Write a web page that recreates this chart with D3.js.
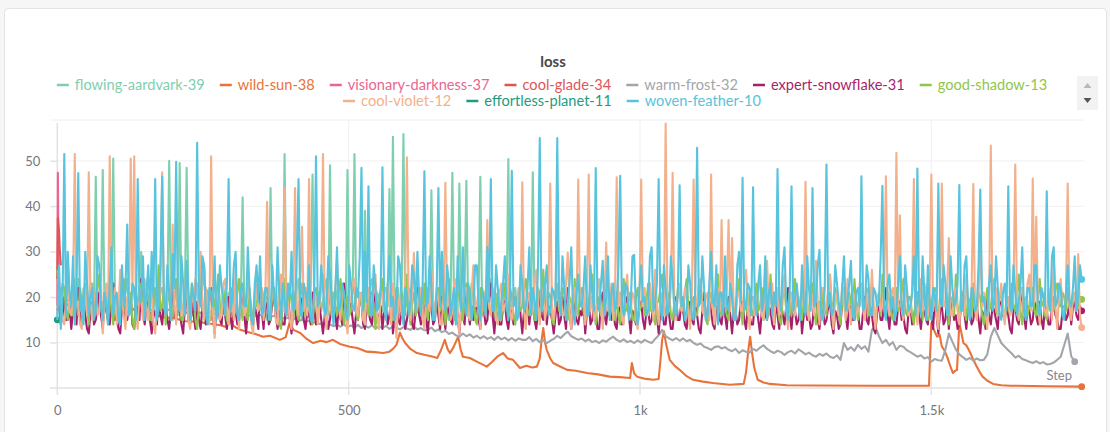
<!DOCTYPE html>
<html>
<head>
<meta charset="utf-8">
<script src="https://cdn.jsdelivr.net/npm/d3@7"></script>
<style>
  body { margin: 0; background: #f6f6f6; overflow: hidden; }
  svg { display: block; font-family: Lato, "Noto Sans", sans-serif; }
</style>
</head>
<body>
<script>
// run names + colours (legend order = draw order)
const runNames = ["flowing-aardvark-39", "wild-sun-38", "visionary-darkness-37", "cool-glade-34", "warm-frost-32",
  "expert-snowflake-31", "good-shadow-13", "cool-violet-12", "effortless-planet-11", "woven-feather-10"];
const runColors = ["#7fcfae", "#e8733a", "#ea6590", "#e05656", "#a2a6aa",
  "#a61f6b", "#8fc64c", "#f2b18c", "#1f9b80", "#57c3dc"];

// x ticks / y ticks
const xTicks = [0, 500, 1000, 1500];
const yTicks = [10, 20, 30, 40, 50];

// logging grids: most runs every 3 steps, warm-frost every 6 steps
const fineSteps = d3.range(0, 1759, 3);
const coarseSteps = d3.range(0, 1759, 6);

// flowing-aardvark-39 (stops at step 840)
const flowingAardvark = [
  16,20,22,17,18,23,27,19,15,21,20,16,24,18,17,22,21,16,19,23,
  23,18,46.5,17,17,21,48,18,20,16,15,22,50.5,19,19,15,22,18,16,21,
  24,17,18,22,21,16,15,20,30,17,19,23,17,21,23,16,20,18,16,22,
  22,17,18,21,50,19,15,20,21,16,49.5,18,17,22,48.5,19,20,16,16,21,
  23,17,19,22,27,18,15,20,22,16,18,21,24,17,16,22,20,18,21,16,
  17,21,23,16,15,20,42,18,19,23,22,16,16,21,25,18,18,22,20,16,
  15,20,44,18,21,16,17,22,23,18,51.5,19,16,21,20,17,19,22,24,17,
  15,21,22,17,18,23,47,18,16,21,21,17,19,22,24,16,49,18,17,22,
  20,16,15,21,23,17,48,19,18,22,51.5,17,16,20,21,18,39,17,19,23,
  24,18,15,21,20,17,17,22,22,18,43.8,19,55.3,18,19,22,16,21,55.9,18,
  18,22,21,16,15,20,23,17,19,22,17,16,22,18,43.5,19,16,21,20,17,
  24,18,18,21,15,20,47.4,18,21,17,45,19,17,22,45.6,18,19,23,22,17,
  16,20,46.5,18,20,16,18,22,24,17,15,20,21,16,17,22,19,18,50.4,19,
  16,21,22,17,18,23,24,17,15,20,20,16,47.5,18,17,22,21,16,19,22,18
];

// wild-sun-38 (logged steps + values)
const wildSunSteps = [0, 20, 40, 60, 80, 100, 120, 142, 160, 180, 199, 220, 245, 255, 267, 280, 291, 296, 303, 314,
  325, 340, 353, 365, 382, 392, 399, 405, 417, 428, 439, 452, 462, 473, 485, 502, 515, 531, 545, 559,
  570, 576, 582, 588, 592, 597, 606, 617, 630, 645, 652, 658, 665, 670, 674, 680, 688, 692, 696, 708,
  720, 737, 745, 755, 765, 773, 782, 794, 805, 815, 823, 828, 831, 834, 837, 840, 846, 851, 862, 875,
  890, 909, 928, 948, 965, 983, 986, 990, 995, 1010, 1023, 1032, 1035, 1038, 1041, 1045, 1051, 1060, 1068, 1080,
  1091, 1108, 1125, 1154, 1178, 1182, 1186, 1189, 1192, 1196, 1202, 1212, 1223, 1252, 1300, 1400, 1496, 1498, 1500, 1505,
  1510, 1514, 1518, 1522, 1527, 1532, 1537, 1541, 1544, 1546, 1548, 1551, 1555, 1560, 1567, 1572, 1578, 1583, 1588, 1596,
  1606, 1620, 1635, 1700, 1758];
const wildSunValues = [20, 19.2, 19.6, 18.8, 18.9, 18.1, 17.8, 17, 16.5, 15.6, 15.4, 14.7, 14.6, 14.2, 14.1, 13.8, 13.4, 15, 13.6, 12.8,
  12.4, 11.9, 11.3, 11.5, 10.6, 11.2, 14.6, 12.8, 12.1, 10.8, 9.9, 10.4, 10.1, 10.6, 9.7, 9.1, 8.8, 8, 7.9, 7.7,
  8, 8.6, 9.5, 12.2, 11, 9.9, 8.6, 7.7, 7.3, 6.9, 6.6, 8.2, 10.6, 8.5, 7.7, 9, 11.3, 8.6, 6.9, 6.6,
  5.8, 4.7, 5.6, 6.9, 7.7, 6.5, 6.2, 4.4, 4.9, 4.5, 4.7, 6.5, 10.4, 13.2, 10, 8.4, 6.5, 5.5, 4.8, 4,
  3.8, 3.3, 3, 2.5, 2.4, 2.2, 5.5, 3.2, 2.5, 2, 1.8, 2, 6, 10.6, 12.5, 9.5, 6.2, 4.8, 4, 2.6,
  1.8, 1.4, 1.1, 0.7, 0.9, 3.5, 8.5, 11.3, 8, 4.5, 1.8, 1.2, 0.9, 0.6, 0.55, 0.5, 0.5, 8, 14.3, 12.6,
  11.3, 11.8, 9.1, 8.4, 6.9, 5, 3.3, 3.8, 4, 9, 14.3, 12.5, 9.9, 9.4, 7.7, 6.2, 4.7, 3.5, 2.5, 1.6,
  0.9, 0.6, 0.5, 0.4, 0.3];

// the two runs that crashed right away
const visionarySteps = [0, 1, 2, 3, 4];
const visionaryValues = [18, 47.4, 30, 24, 20];
const coolGladeSteps = [0, 1, 2, 3, 4, 5, 6];
const coolGladeValues = [24, 37.4, 36, 34.5, 31, 29, 27];
// single logged point
const effortlessSteps = [0];
const effortlessValues = [15];

// warm-frost-32 (coarse grid, stops at step 1746)
const warmFrost = [
  20, 18.5, 19.5, 18.2, 19, 17.8, 18.6, 19.2, 17.9, 18.4,
  19, 17.6, 18.2, 18.8, 17.5, 18, 17.4, 18.3, 17.8, 17.2,
  18, 17.5, 17.1, 17.8, 17.3, 16.9, 17.6, 17.1, 16.8, 17.4,
  17.2, 16.8, 17.3, 16.7, 17.1, 16.6, 17.2, 16.5, 16.9, 16.6,
  17, 16.5, 16.9, 16.4, 16.8, 16.3, 16.7, 16.2, 16.6, 16.1,
  16.5, 16.1, 16.4, 16, 16.3, 15.9, 16.2, 15.8, 16.1, 15.7,
  16, 15.6, 15.9, 15.4, 15.7, 15.2, 15.5, 15, 15.3, 14.8,
  15, 14.6, 14.8, 14.4, 14.5, 14.1, 14.3, 13.9, 14, 13.6,
  13.9, 13.5, 14, 13.4, 13.8, 13.3, 13.9, 13.2, 13.7, 13.3,
  13.8, 13.1, 13.6, 13.2, 13.7, 13, 13.5, 13.3, 12.9, 13.4,
  13.1, 12.8, 13.5, 12.9, 13.2, 12.7, 12.8, 13.3, 12.5, 12.9,
  12.3, 12.6, 11.9, 12.2, 11.6, 11.3, 12, 11.4, 11.8, 11.1,
  11.5, 10.9, 11.4, 10.8, 11.2, 10.6, 11.3, 10.7, 11.1, 10.5,
  11, 10.4, 10.9, 10.6, 10.6, 11.2, 10.3, 10.8, 10.1, 10.5,
  9.9, 10.4, 10.8, 11.5, 11, 11.8, 12.4, 11.4, 11, 10.6,
  10.9, 10.3, 10.7, 10.1, 10.4, 9.9, 10.5, 10.2, 10.8, 11.3,
  10.6, 10.2, 10.7, 10.1, 10.4, 9.9, 10.5, 10, 10.6, 10.2,
  9.9, 10.8, 11.6, 12.8, 11.4, 10.9, 10.5, 11, 10.4, 10.9,
  10.3, 10.6, 9.9, 9.5, 9.8, 9.1, 8.8, 8.4, 9, 9.2,
  8.7, 9, 8.4, 8.1, 8.6, 7.7, 8.3, 8, 7.8, 8.6,
  8.2, 8.9, 9.4, 8.6, 8.1, 7.7, 8.2, 7.9, 7.3, 7.9,
  8.2, 7.6, 8.5, 8, 7.4, 7.8, 7.2, 6.9, 7.5, 7.1,
  7.6, 6.9, 6.6, 7.2, 6.2, 9.9, 8.4, 9, 8.2, 9.5,
  8.6, 9.2, 8, 12.8, 13.5, 11.4, 9.9, 10.6, 9.4, 10.1,
  8.4, 9.3, 9.1, 8.3, 7.9, 7.4, 6.9, 7.2, 6.5, 6.8,
  5.8, 6.4, 6.1, 6, 8.4, 12, 10.2, 8.5, 7.4, 6.8,
  6.2, 6.6, 6, 6.5, 6.1, 6.2, 7.4, 11.3, 13.2, 11.6,
  9.9, 9.1, 8.3, 7.6, 6.7, 7.1, 6.4, 6.1, 5.8, 5.5,
  5.9, 5.4, 5.7, 5.2, 5.3, 5.6, 6.2, 6.9, 9.4, 12,
  7, 5.8
];

// expert-snowflake-31
const expertSnowflake = [
  17,19,14,16,20,15,15,18,13,17,18,14,22,16,14,19,16,13,12,17,
  19,14,15,18,21,16,13,19,17,15,14,20,23,15,16,13,12,18,18,15,
  15,18,20,14,13,19,17,15,24,17,14,18,19,15,12,17,16,14,21,16,
  14,19,18,15,13,17,23,16,15,20,17,14,12,18,20,15,14,19,16,13,
  19,15,13,18,17,14,15,19,22,16,12,17,18,15,14,20,16,13,20,16,
  13,18,17,14,15,19,21,16,12,17,19,15,14,18,16,13,24,17,13,19,
  18,14,15,19,20,16,13,17,16,14,14,19,22,15,12,18,17,14,15,20,
  19,15,13,17,16,14,21,17,14,19,18,15,12,16,17,13,15,19,20,16,
  13,18,16,14,23,17,14,19,18,15,12,17,15,20,19,14,13,18,17,15,
  14,19,21,16,15,18,13,17,18,14,16,20,12,16,20,15,14,18,17,13,
  15,18,19,14,13,17,22,16,14,19,17,15,12,18,18,14,15,20,16,13,
  20,16,13,18,17,15,14,19,19,16,12,17,16,14,21,17,14,18,15,19,
  18,15,13,19,17,14,15,20,23,16,12,17,16,14,14,18,19,15,13,17,
  17,14,15,19,21,16,12,17,16,19,14,18,18,15,13,17,20,16,15,19,
  14,18,17,15,12,16,19,14,15,20,16,13,22,17,13,19,18,15,14,17,
  16,19,12,17,19,14,15,18,17,13,13,19,21,16,14,18,16,15,18,14,
  13,18,17,14,15,19,20,16,12,17,16,14,14,18,19,15,13,17,17,14,
  15,19,22,16,12,17,18,14,14,19,16,13,13,18,20,15,15,19,17,14,
  13,17,19,15,14,18,16,13,12,17,21,16,15,19,17,14,13,18,18,15,
  14,18,16,13,20,16,12,17,17,14,15,19,19,15,13,18,16,14,14,19,
  18,15,12,17,21,16,15,18,17,14,13,19,16,13,19,16,14,18,22,16,
  13,18,17,14,15,19,12,16,18,15,16,13,14,19,20,15,13,17,17,14,
  15,18,19,14,12,17,16,13,14,19,21,16,13,18,18,15,15,19,17,13,
  13,17,20,15,14,18,16,13,12,17,18,15,15,19,22,16,13,18,17,14,
  14,18,19,15,16,13,12,17,18,14,15,19,21,16,13,17,17,15,14,19,
  16,13,20,16,12,17,18,14,15,19,13,17,19,15,16,13,14,18,21,16,
  13,18,17,14,15,19,18,15,12,17,16,13,20,16,14,18,17,15,13,19,
  19,16,15,18,16,13,12,17,18,15,14,19,22,16,13,18,17,14,15,19,
  16,14,19,15,13,18,17,14,14,19,20,16,15,13,13,17,18,15,16,19,
  14,18,19,16,15,18,17
];

// good-shadow-13
const goodShadow = [
  26,21,18,23,22,17,15,20,20,16,24,19,16,22,19,15,23,18,14,21,
  21,16,17,22,25,18,15,21,19,14,22,17,14,19,20,16,18,23,24,17,
  16,20,21,15,13,18,19,22,23,16,17,21,20,15,15,19,22,18,27,17,
  18,22,14,19,21,17,16,20,24,18,19,15,15,21,22,16,17,23,20,15,
  13,18,23,17,18,22,21,15,15,20,19,16,25,18,16,21,20,15,14,19,
  22,16,17,21,24,18,15,20,19,15,21,17,14,19,18,22,23,17,16,20,
  20,16,15,21,22,17,18,14,13,19,24,18,17,22,19,15,21,17,15,20,
  23,18,16,21,20,15,14,19,22,17,18,23,25,17,15,20,19,16,21,18,
  16,21,24,18,14,19,20,16,17,22,22,16,15,20,19,15,23,18,16,21,
  21,17,13,18,18,22,24,17,16,21,20,15,15,19,22,17,17,21,19,16,
  25,18,14,19,21,16,17,22,19,15,23,18,15,20,20,16,16,21,22,17,
  18,22,14,19,24,17,19,15,16,21,21,17,15,20,23,18,17,22,20,15,
  14,19,22,16,18,21,25,18,16,20,19,15,21,17,15,20,23,17,17,22,
  20,16,14,19,22,17,18,22,24,17,16,20,19,15,15,21,21,17,26,18,
  17,21,20,15,14,19,23,17,18,22,21,16,15,20,19,16,24,18,16,21,
  22,17,15,20,18,22,25,17,14,19,20,16,17,21,23,18,16,20,19,15,
  21,16,14,19,24,18,17,21,19,15,15,20,22,17,18,21,16,19,23,17,
  20,16,14,19,19,22,25,18,16,20,21,16,15,19,18,22,22,17,17,21,
  24,18,15,19,20,16,16,21,23,17,19,15,14,20,21,17,18,22,25,17,
  16,21,20,16,15,19,22,17,17,21,24,18,14,19,19,16,21,17,16,20,
  23,17,18,22,15,19,20,16,25,18,17,21,19,15,14,20,22,17,18,21,
  16,20,24,18,20,16,15,19,21,17,17,22,23,17,14,19,19,16,22,18,
  16,21,25,18,18,22,20,16,14,19,22,17,17,21,19,16,24,18,15,20,
  21,17,18,22,16,20,23,17,14,19,20,16,25,18,17,21,19,16,15,20,
  22,17,18,21,24,17,16,20,20,16,14,19,21,17,19,15,23,18,15,20,
  17,21,22,16,16,20,24,18,18,21,14,19,20,16,25,18,16,20,21,17,
  15,20,19,16,23,18,17,21,20,16,14,19,22,17,18,21,24,17,16,20,
  21,17,15,20,19,16,23,18,17,21,25,17,14,19,20,16,18,22,22,17,
  16,20,24,18,19,16,15,20,21,17,17,22,23,18,18,21,20,17,22,18,
  16,20,21,17,18,20,19.5
];

// cool-violet-12
const coolViolet = [
  17,22,20,15,14,19,24,17,16,21,51.5,18,19,14,13,20,22,16,47.5,19,
  15,20,21,16,17,23,12,18,23,15,51,19,18,22,14,17,26,20,16,13,
  20,17,50.5,21,51,16,13,22,19,15,24,18,15,20,21,14,12,19,18,23,
  47.5,18,16,21,22,15,36,19,14,23,20,16,17,22,25,15,13,20,19,24,
  22,17,30,19,15,22,18,14,51,17,11,20,21,15,16,23,24,18,14,21,
  19,15,26,18,13,21,22,16,17,23,20,14,12,19,24,17,18,22,15,20,
  41,18,17,22,21,15,14,20,25,17,44,19,19,15,13,21,44,18,16,23,
  35.5,17,22,16,46,19,15,21,20,14,18,23,51.5,17,13,20,23,16,17,22,
  28,18,15,22,21,16,12,19,19,23,24,17,16,21,20,15,14,22,22,17,
  18,21,25,16,13,20,21,17,16,23,19,14,23,18,11,19,20,16,17,24,
  50.8,18,15,21,29.7,17,18,22,22,15,13,20,20,17,26,19,16,22,19,14,
  14,20,45.2,18,21,15,17,23,24,16,12,19,19,22,22,16,15,21,27,18,
  18,22,13,19,21,16,37,18,16,22,20,15,14,21,23,17,18,20,25,16,
  15,21,19,16,22,18,45.3,17,13,20,21,16,17,23,26,18,14,22,20,15,
  18,22,45,17,15,20,43,18,21,16,16,23,29.8,17,13,21,22,16,45.9,19,
  18,22,14,19,47,17,20,15,16,22,24,18,13,20,32,17,19,23,15,20,
  46.4,18,21,15,14,22,25,17,17,21,20,15,13,19,45.9,18,22,16,16,23,
  19,15,26,18,14,20,21,16,58.2,19,17,22,47.4,18,15,21,23,17,18,22,
  20,16,13,21,45.9,18,19,23,24,17,16,20,21,15,47,18,14,21,22,17,
  37,19,18,22,37,17,33,16,15,21,21,17,17,23,26,18,13,20,20,16,
  18,22,24,16,15,21,28,18,19,23,14,20,22,16,17,21,25,17,13,19,
  21,17,16,22,19,15,23,18,45.4,17,15,21,20,16,28,19,14,22,22,17,
  18,22,25,17,13,20,21,16,16,23,19,15,24,18,14,21,20,16,17,23,
  23,17,15,21,19,16,26,18,13,20,21,17,18,22,46.6,18,16,21,22,15,
  51.8,18,38,17,15,22,20,16,17,21,46,18,14,20,24,17,19,22,16,20,
  47,17,21,16,13,20,45,18,18,22,33,16,16,21,22,17,14,20,20,16,
  25,18,17,21,44.9,17,15,20,34,18,21,16,13,19,53.4,18,19,22,16,20,
  23,17,14,20,20,16,17,22,49.2,18,15,21,22,16,18,23,25,17,46.1,19,
  37.7,18,14,21,21,17,16,22,19,15,28.4,18,13,20,24,17,17,21,45,18,
  15,20,21,17,29.5,16,13.3
];

// woven-feather-10
const wovenFeather = [
  15,27,13,19,51.5,16,30,21,18,29,14,22,47.3,17,20,14,30,23,16,20,
  22,15,17,29,27,18,15,21,19,14,23,31,16,20,21,15,14,27,18,22,
  36,16,17,23,22,15,46,19,19,29,15,21,27,17,30,20,46,15,18,27,
  46.5,19,16,27,21,15,29.5,22,49.8,18,17,29,23,16,28,21,15,23,20,17,
  54,20,18,29,27,16,14,22,21,18,29,15,17,27,22,19,16,23,46,17,
  19,27,30,16,15,22,23,18,18,31,21,15,14,23,27,19,29,16,17,22,
  22,15,16,27,20,17,31,21,15,23,19,16,23,20,30,17,18,29,46,16,
  16,23,21,18,27,15,15,22,51,18,19,27,22,16,17,29,25,19,14,21,
  31,17,18,23,21,16,15,27,23,18,17,22,20,29,48.5,17,30,19,44.4,16,
  16,27,22,17,18,21,48.6,19,15,23,29,18,20,15,17,29,27,19,14,22,
  21,16,18,27,25,17,30,20,16,23,47.7,18,19,29,22,15,15,21,44,18,
  30,20,17,27,23,16,19,22,14,29,22,17,31,19,16,23,21,15,18,27,
  27,18,15,22,20,16,31,19,46,17,17,27,22,15,19,23,29,18,15,21,
  47.8,18,20,15,16,27,23,17,18,22,31,16,22,19,15,27,55,17,19,23,
  27,16,17,22,21,18,55,20,16,29,22,15,19,23,31,17,14,21,25,18,
  18,22,29,16,16,27,21,17,48.4,19,17,23,28,16,20,29,15,21,23,17,
  19,27,46.7,18,16,23,22,15,18,29,29.3,17,14,22,27,19,20,16,17,29,
  31,17,19,23,46,18,15,27,22,16,18,29,24,17,16,21,44.6,18,20,15,
  17,27,23,16,15,22,52.9,18,19,29,22,15,16,23,30,19,18,27,14,21,
  21,16,29,18,17,23,20,15,15,27,30,19,46.3,17,18,23,22,16,44.2,19,
  16,23,27,17,19,29,15,21,23,16,21,18,48.2,20,17,27,31,18,15,22,
  44.4,17,20,23,18,15,27,19,16,29,22,17,44,18,19,27,30.4,16,15,22,
  49.2,18,21,16,17,27,23,19,16,22,29,17,19,23,28,16,15,21,22,18,
  46.6,17,18,27,24,16,16,22,21,18,19,29,44.5,17,15,23,25,17,20,15,
  17,23,29,18,16,27,22,17,18,21,29,16,48.3,19,16,29,21,15,27,18,
  15,22,20,17,45,19,18,27,23,16,16,29,22,18,19,23,44.7,17,17,27,
  29,18,15,22,21,17,18,27,43.7,19,20,16,16,23,27,17,19,29,22,16,
  15,21,23,17,44.4,18,17,27,21,16,19,23,31,17,15,22,22,18,18,27,
  27,17,16,22,20,18,43.3,19,17,29,31,18,19,23,22,16,15,21,27,19,
  18,22,29,17,20,27,23.9
];

// build [step, value] lists in legend order
const onFine = vals => vals.map((v, i) => [fineSteps[i], v]);
const onCoarse = vals => vals.map((v, i) => [coarseSteps[i], v]);
const paired = (s, v) => s.map((d, i) => [d, v[i]]);
const runData = [
  onFine(flowingAardvark),
  paired(wildSunSteps, wildSunValues),
  paired(visionarySteps, visionaryValues),
  paired(coolGladeSteps, coolGladeValues),
  onCoarse(warmFrost),
  onFine(expertSnowflake),
  onFine(goodShadow),
  onFine(coolViolet),
  paired(effortlessSteps, effortlessValues),
  onFine(wovenFeather)
];

const width = 1110, height = 432;
const marginLeft = 57.3, plotRight = 1081.7, plotTop = 120, plotBottom = 388;

const x = d3.scaleLinear().domain([0, 1758]).range([marginLeft, plotRight]);
const y = d3.scaleLinear().domain([0, 59]).range([plotBottom, plotTop]);

const svg = d3.select("body").append("svg")
  .attr("width", width)
  .attr("height", height);

// card
svg.append("rect")
  .attr("x", 4.5).attr("y", 8.5)
  .attr("width", 1102).attr("height", 460)
  .attr("rx", 4)
  .attr("fill", "#fff")
  .attr("stroke", "#e3e3e3");

// title
svg.append("text")
  .attr("x", 553).attr("y", 67)
  .attr("text-anchor", "middle")
  .attr("font-size", 15)
  .attr("font-weight", 700)
  .attr("fill", "#474747")
  .text("loss");

// legend, two centred rows
const legendRows = [runNames.slice(0, 7), runNames.slice(7)];
const legend = svg.append("g").attr("font-size", 14.6);
legendRows.forEach((row, r) => {
  const rowG = legend.append("g");
  let cx = 0;
  row.forEach(name => {
    const i = runNames.indexOf(name);
    const item = rowG.append("g").attr("transform", `translate(${cx},0)`);
    item.append("line")
      .attr("x1", 0).attr("x2", 12)
      .attr("y1", 0).attr("y2", 0)
      .attr("stroke", runColors[i])
      .attr("stroke-width", 2.5);
    const t = item.append("text")
      .attr("x", 18).attr("y", 4.8)
      .attr("fill", runColors[i])
      .text(name);
    cx += 18 + t.node().getComputedTextLength() + 15;
  });
  const rowWidth = cx - 15;
  rowG.attr("transform", `translate(${552 - rowWidth / 2},${85 + r * 16})`);
});

// legend scroll buttons
svg.append("rect")
  .attr("x", 1077).attr("y", 76)
  .attr("width", 21).attr("height", 34)
  .attr("fill", "#f2f2f2");
svg.append("path")
  .attr("d", "M1083.5,88 L1091.5,88 L1087.5,83 Z")
  .attr("fill", "#b9b9b9");
svg.append("path")
  .attr("d", "M1083.5,98 L1091.5,98 L1087.5,103 Z")
  .attr("fill", "#555");

// grid
const grid = svg.append("g");
grid.selectAll(".hgrid")
  .data([...yTicks, 59])
  .join("line")
  .attr("x1", 50).attr("x2", 1084)
  .attr("y1", d => y(d)).attr("y2", d => y(d))
  .attr("stroke", "#f0f0f0");
grid.selectAll(".vgrid")
  .data(xTicks.slice(1))
  .join("line")
  .attr("x1", d => x(d)).attr("x2", d => x(d))
  .attr("y1", plotTop).attr("y2", plotBottom + 7)
  .attr("stroke", "#f1f1f1");

// axes
const yAxis = svg.append("g")
  .attr("transform", `translate(${marginLeft},0)`)
  .call(d3.axisLeft(y).tickValues(yTicks).tickSize(7).tickPadding(10));
const xAxis = svg.append("g")
  .attr("transform", `translate(0,${plotBottom})`)
  .call(d3.axisBottom(x).tickValues(xTicks).tickSize(0).tickPadding(18)
    .tickFormat(d => d >= 1000 ? d / 1000 + "k" : d));
[yAxis, xAxis].forEach(a => {
  a.select(".domain").remove();
  a.selectAll("line").attr("stroke", "#e2e2e2").attr("stroke-width", 1.2);
  a.selectAll("text")
    .attr("fill", "#76767e")
    .attr("font-size", 13)
    .attr("font-family", "Lato, 'Noto Sans', sans-serif");
});
svg.append("line")
  .attr("x1", marginLeft).attr("x2", marginLeft)
  .attr("y1", 123).attr("y2", plotBottom + 7)
  .attr("stroke", "#e2e2e2").attr("stroke-width", 1.5);
svg.append("line")
  .attr("x1", 50).attr("x2", 1084)
  .attr("y1", plotBottom).attr("y2", plotBottom)
  .attr("stroke", "#e2e2e2").attr("stroke-width", 1.5);
svg.selectAll(".xtick")
  .data(xTicks.slice(1))
  .join("line")
  .attr("x1", d => x(d)).attr("x2", d => x(d))
  .attr("y1", plotBottom - 6).attr("y2", plotBottom + 7)
  .attr("stroke", "#e2e2e2").attr("stroke-width", 1.2);

// "Step" label
svg.append("text")
  .attr("x", 1072).attr("y", 380)
  .attr("text-anchor", "end")
  .attr("font-size", 13)
  .attr("fill", "#85858c")
  .text("Step");

// lines
const line = d3.line()
  .x(d => x(d[0]))
  .y(d => y(d[1]));

const lines = svg.append("g");
runData.forEach((data, i) => {
  if (data.length > 1) {
    lines.append("path")
      .datum(data)
      .attr("fill", "none")
      .attr("stroke", runColors[i])
      .attr("stroke-width", 2.1)
      .attr("stroke-linejoin", "round")
      .attr("d", line);
  }
  const last = data[data.length - 1];
  if (data.length === 1 || last[0] > 1700) {
    lines.append("circle")
      .attr("cx", x(last[0]))
      .attr("cy", y(last[1]))
      .attr("r", 3.4)
      .attr("fill", runColors[i]);
  }
});
</script>
</body>
</html>
